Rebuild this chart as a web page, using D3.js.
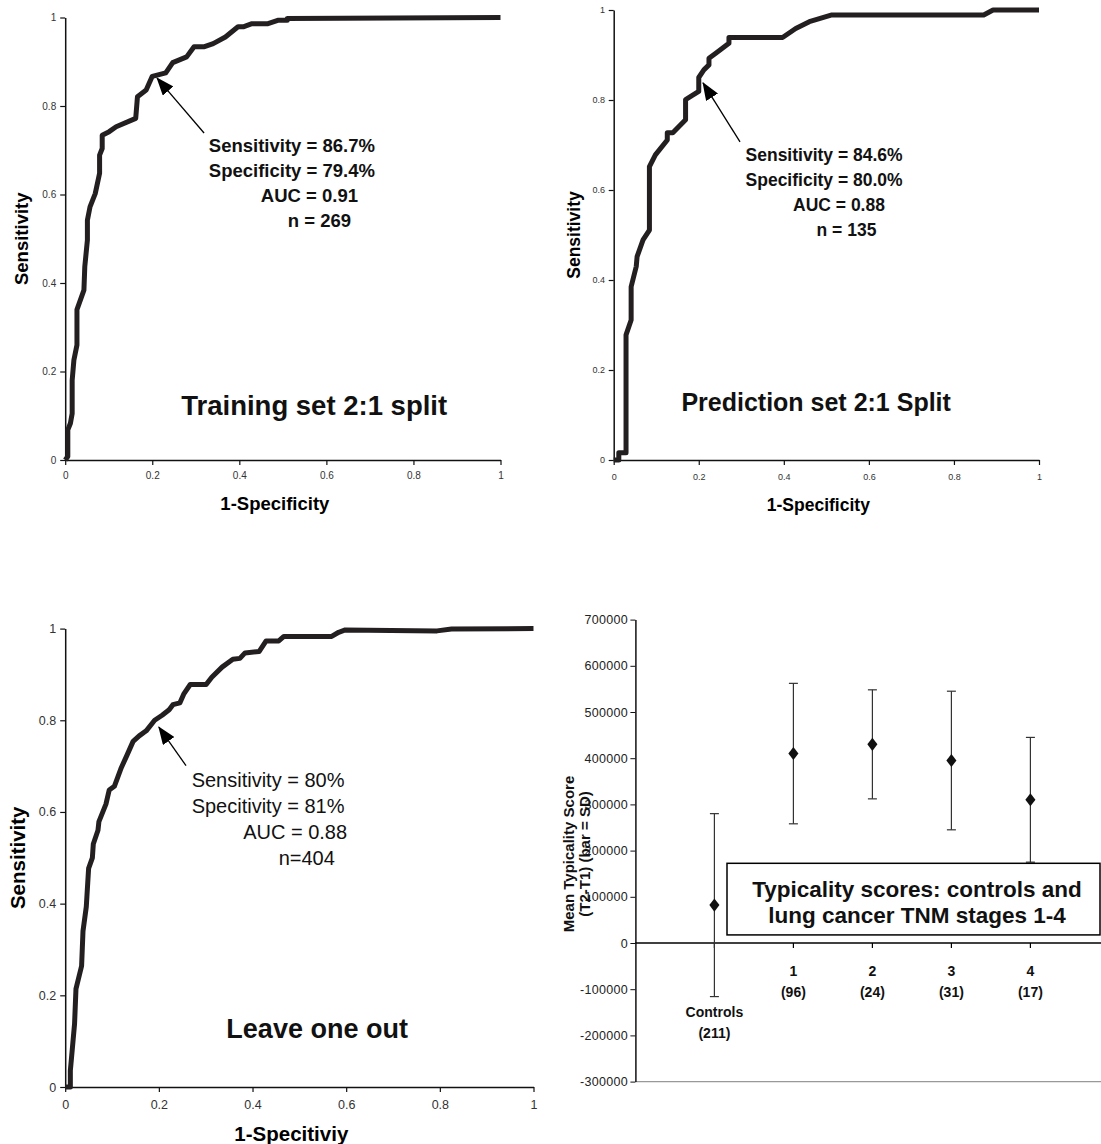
<!DOCTYPE html>
<html>
<head>
<meta charset="utf-8">
<script src="https://cdn.jsdelivr.net/npm/d3@7"></script>
<style>
body{margin:0;background:#fff}
svg{display:block;font-family:"Liberation Sans",Arial,sans-serif}
</style>
</head>
<body>
<svg id="chart"></svg>
<script>
// ROC curves, [1-specificity, sensitivity]
var trainingCurve = [[0,0],[0.006,0.008],[0.006,0.068],[0.012,0.083],[0.016,0.105],[0.016,0.18],[0.02,0.226],
  [0.027,0.26],[0.027,0.34],[0.043,0.384],[0.045,0.437],[0.051,0.497],[0.051,0.542],[0.057,0.572],[0.069,0.602],
  [0.079,0.648],[0.079,0.689],[0.085,0.704],[0.085,0.734],[0.101,0.742],[0.117,0.753],[0.162,0.772],[0.166,0.821],
  [0.186,0.836],[0.2,0.867],[0.231,0.875],[0.247,0.898],[0.279,0.911],[0.296,0.934],[0.32,0.934],[0.34,0.941],
  [0.368,0.956],[0.397,0.979],[0.409,0.979],[0.429,0.986],[0.466,0.986],[0.49,0.994],[0.51,0.994],[0.51,0.998],[1,1]]

var predictionCurve = [[0,0],[0.012,0],[0.012,0.016],[0.029,0.016],[0.029,0.278],[0.041,0.311],[0.041,0.385],
  [0.053,0.43],[0.055,0.452],[0.069,0.489],[0.084,0.511],[0.084,0.652],[0.098,0.678],[0.126,0.711],[0.126,0.727],
  [0.139,0.727],[0.169,0.756],[0.169,0.801],[0.183,0.809],[0.2,0.819],[0.2,0.85],[0.212,0.867],[0.224,0.878],
  [0.224,0.893],[0.24,0.904],[0.271,0.926],[0.271,0.939],[0.397,0.939],[0.428,0.959],[0.46,0.974],[0.513,0.989],
  [0.87,0.989],[0.892,1],[1,1]]

var leaveOneOutCurve = [[0,0],[0.011,0],[0.011,0.036],[0.015,0.081],[0.02,0.138],[0.023,0.214],[0.035,0.264],
  [0.038,0.34],[0.045,0.393],[0.05,0.477],[0.058,0.5],[0.06,0.53],[0.07,0.56],[0.072,0.579],[0.087,0.617],
  [0.094,0.648],[0.105,0.656],[0.12,0.697],[0.132,0.724],[0.145,0.754],[0.158,0.766],[0.173,0.777],[0.191,0.8],
  [0.207,0.811],[0.222,0.823],[0.23,0.834],[0.245,0.838],[0.253,0.857],[0.267,0.878],[0.301,0.878],[0.313,0.894],
  [0.335,0.916],[0.358,0.933],[0.373,0.935],[0.384,0.947],[0.414,0.95],[0.429,0.973],[0.456,0.973],[0.467,0.983],
  [0.569,0.983],[0.584,0.992],[0.598,0.997],[0.794,0.995],[0.825,0.999],[1,1]]

var rocTicks = [0,0.2,0.4,0.6,0.8,1]

// typicality panel
var stageCategories = ["Controls","1","2","3","4"]
var stageLabels = [["","","Controls","(211)"],["1","(96)"],["2","(24)"],["3","(31)"],["4","(17)"]]
var stageMeans = [82000,410000,430000,395000,310000]
var stageSD = [198000,152000,118000,150000,135000]
var typicalityTicks = [-300000,-200000,-100000,0,100000,200000,300000,400000,500000,600000,700000]

var svg = d3.select("#chart").attr("width",1101).attr("height",1144)

svg.append("defs").append("marker")
    .attr("id","arrowHead")
    .attr("markerUnits","userSpaceOnUse")
    .attr("viewBox","0 0 18 14")
    .attr("markerWidth",18).attr("markerHeight",14)
    .attr("refX",17).attr("refY",7)
    .attr("orient","auto")
    .append("path").attr("d","M0,0L18,7L0,14Z").attr("fill","#000")

var rocPanels = [
  {curve:trainingCurve, left:65.2, right:500.5, top:17.5, bottom:460,
   tickFont:10, xPad:7, yPad:4, titleFont:18.5, xTitleY:510, yTitleX:28,
   xTitle:"1-Specificity", label:"Training set 2:1 split", labelAt:[0.572,0.102], labelFont:27.5,
   arrow:[[0.319,0.739],[0.211,0.863]],
   note:{at:[0.33,0.696], lines:["Sensitivity = 86.7%","Specificity = 79.4%","AUC = 0.91","n = 269"],
         indent:[0,0,52,79], lh:25, font:18.5, weight:"bold"}},
  {curve:predictionCurve, left:613.7, right:1039, top:10, bottom:460,
   tickFont:9, xPad:8.5, yPad:3.7, titleFont:17.5, xTitleY:511, yTitleX:580,
   xTitle:"1-Specificity", label:"Prediction set 2:1 Split", labelAt:[0.476,0.109], labelFont:25,
   arrow:[[0.297,0.707],[0.21,0.838]],
   note:{at:[0.31,0.664], lines:["Sensitivity = 84.6%","Specificity = 80.0%","AUC = 0.88","n = 135"],
         indent:[0,0,47.5,71], lh:25, font:17.5, weight:"bold"}},
  {curve:leaveOneOutCurve, left:65.2, right:533.5, top:628.6, bottom:1087,
   tickFont:12.5, xPad:8, yPad:4, titleFont:20.5, xTitleY:1141, yTitleX:25,
   xTitle:"1-Specitiviy", label:"Leave one out", labelAt:[0.538,0.107], labelFont:27,
   arrow:[[0.258,0.701],[0.2,0.785]],
   note:{at:[0.27,0.654], lines:["Sensitivity = 80%","Specitivity = 81%","AUC = 0.88","n=404"],
         indent:[0,0,51.5,87], lh:26, font:20, weight:"normal"}}
]

var drawRoc = function(p){
    var x = d3.scaleLinear().domain([0,1]).range([p.left,p.right])
    var y = d3.scaleLinear().domain([0,1]).range([p.bottom,p.top])
    var g = svg.append("g")

    var yAxis = g.append("g").attr("transform","translate("+p.left+",0)")
        .call(d3.axisLeft(y).tickValues(rocTicks).tickFormat(d3.format("")).tickSize(5).tickSizeOuter(0).tickPadding(p.yPad))
    var xAxis = g.append("g").attr("transform","translate(0,"+p.bottom+")")
        .call(d3.axisBottom(x).tickValues(rocTicks).tickFormat(d3.format("")).tickSize(5).tickSizeOuter(0).tickPadding(p.xPad))
    ;[xAxis,yAxis].forEach(function(a){
        a.select(".domain").attr("stroke","#111").attr("stroke-width",1.5)
        a.selectAll(".tick line").attr("stroke","#111").attr("stroke-width",1.2)
        a.selectAll("text").attr("font-size",p.tickFont).attr("fill","#333")
            .attr("font-family","'Liberation Sans',Arial,sans-serif")
    })

    var line = d3.line().x(function(d){return x(d[0])}).y(function(d){return y(d[1])})
    g.append("path").datum(p.curve)
        .attr("d",line)
        .attr("fill","none").attr("stroke","#231f20").attr("stroke-width",5)
        .attr("stroke-linejoin","round")

    g.append("text").text(p.xTitle)
        .attr("x",(p.left+p.right)/2 - 8).attr("y",p.xTitleY)
        .attr("text-anchor","middle").attr("font-weight","bold").attr("font-size",p.titleFont)
    g.append("text").text("Sensitivity")
        .attr("transform","translate("+p.yTitleX+","+((p.top+p.bottom)/2)+") rotate(-90)")
        .attr("text-anchor","middle").attr("font-weight","bold").attr("font-size",p.titleFont)

    g.append("text").text(p.label)
        .attr("x",x(p.labelAt[0])).attr("y",y(p.labelAt[1]))
        .attr("text-anchor","middle").attr("font-weight","bold").attr("font-size",p.labelFont)
        .attr("fill","#111")

    g.append("line")
        .attr("x1",x(p.arrow[0][0])).attr("y1",y(p.arrow[0][1]))
        .attr("x2",x(p.arrow[1][0])).attr("y2",y(p.arrow[1][1]))
        .attr("stroke","#000").attr("stroke-width",1.3)
        .attr("marker-end","url(#arrowHead)")

    var n = p.note
    g.selectAll(".note").data(n.lines).enter().append("text")
        .attr("class","note")
        .text(function(d){return d})
        .attr("x",function(d,i){return x(n.at[0])+n.indent[i]})
        .attr("y",function(d,i){return y(n.at[1])+i*n.lh})
        .attr("font-size",n.font).attr("font-weight",n.weight).attr("fill","#111")
}

rocPanels.forEach(drawRoc)

// typicality score panel
var drawTypicality = function(){
    var left = 635.4
    var xs = d3.scalePoint().domain(["_l"].concat(stageCategories).concat(["_r"])).range([left,1109.4])
    var ys = d3.scaleLinear().domain([-300000,700000]).range([1081.6,619.6])
    var g = svg.append("g")

    // bottom edge of plot area
    g.append("line").attr("x1",left).attr("x2",1101)
        .attr("y1",ys(-300000)).attr("y2",ys(-300000))
        .attr("stroke","#999").attr("stroke-width",1.2)

    var yAxis = g.append("g").attr("transform","translate("+left+",0)")
        .call(d3.axisLeft(ys).tickValues(typicalityTicks)
            .tickFormat(function(d){return String(d)})
            .tickSize(5).tickSizeOuter(0).tickPadding(2.5))
    yAxis.select(".domain").attr("stroke","#111").attr("stroke-width",1.5)
    yAxis.selectAll(".tick line").attr("stroke","#111")
    yAxis.selectAll("text").attr("font-size",12.5).attr("letter-spacing",0.3).attr("fill","#222")

    // zero axis
    var xAxis = g.append("g").attr("transform","translate(0,"+ys(0)+")")
    xAxis.append("line").attr("x1",left).attr("x2",1101)
        .attr("stroke","#000").attr("stroke-width",1.5)
    xAxis.selectAll(".tk").data(stageCategories).enter().append("line")
        .attr("x1",function(d){return xs(d)}).attr("x2",function(d){return xs(d)})
        .attr("y1",0).attr("y2",5).attr("stroke","#000").attr("stroke-width",1.2)

    var lab = g.selectAll(".cat").data(stageCategories).enter().append("text")
        .attr("class","cat")
        .attr("text-anchor","middle").attr("font-size",14).attr("font-weight","bold")
        .attr("fill","#111")
    lab.each(function(d,i){
        var t = d3.select(this)
        stageLabels[i].forEach(function(s,k){
            t.append("tspan").attr("x",xs(d)).attr("y",ys(0)+33+k*20.6).text(s)
        })
    })

    // error bars
    var bars = g.selectAll(".err").data(stageCategories).enter().append("g")
    bars.append("line")
        .attr("x1",function(d){return xs(d)}).attr("x2",function(d){return xs(d)})
        .attr("y1",function(d,i){return ys(stageMeans[i]+stageSD[i])})
        .attr("y2",function(d,i){return ys(stageMeans[i]-stageSD[i])})
        .attr("stroke","#333").attr("stroke-width",1.2)
    ;[1,-1].forEach(function(s){
        bars.append("line")
            .attr("x1",function(d){return xs(d)-4.5}).attr("x2",function(d){return xs(d)+4.5})
            .attr("y1",function(d,i){return ys(stageMeans[i]+s*stageSD[i])})
            .attr("y2",function(d,i){return ys(stageMeans[i]+s*stageSD[i])})
            .attr("stroke","#333").attr("stroke-width",1.2)
    })
    bars.append("path")
        .attr("d",d3.symbol(d3.symbolDiamond2,90)())
        .attr("transform",function(d,i){return "translate("+xs(d)+","+ys(stageMeans[i])+") scale(0.85,1.1)"})
        .attr("fill","#111")

    // y title
    var yt = g.append("text")
        .attr("transform","translate(0,"+854+") rotate(-90)")
        .attr("text-anchor","middle").attr("font-weight","bold").attr("font-size",15).attr("fill","#111")
    yt.append("tspan").attr("x",0).attr("y",574).text("Mean Typicality Score")
    yt.append("tspan").attr("x",0).attr("y",590).text("(T2-T1) (bar = SD)")

    // caption box
    var boxTop = ys(172500), boxBottom = ys(17500)
    g.append("rect").attr("x",727).attr("y",boxTop)
        .attr("width",373).attr("height",boxBottom-boxTop)
        .attr("fill","#fff").attr("stroke","#000").attr("stroke-width",1.5)
    g.append("text").text("Typicality scores: controls and")
        .attr("x",917).attr("y",boxTop+33.5).attr("text-anchor","middle")
        .attr("font-weight","bold").attr("font-size",22.5).attr("fill","#111")
    g.append("text").text("lung cancer TNM stages 1-4")
        .attr("x",917).attr("y",boxTop+59.5).attr("text-anchor","middle")
        .attr("font-weight","bold").attr("font-size",22.5).attr("fill","#111")
}

drawTypicality()
</script>
</body>
</html>
